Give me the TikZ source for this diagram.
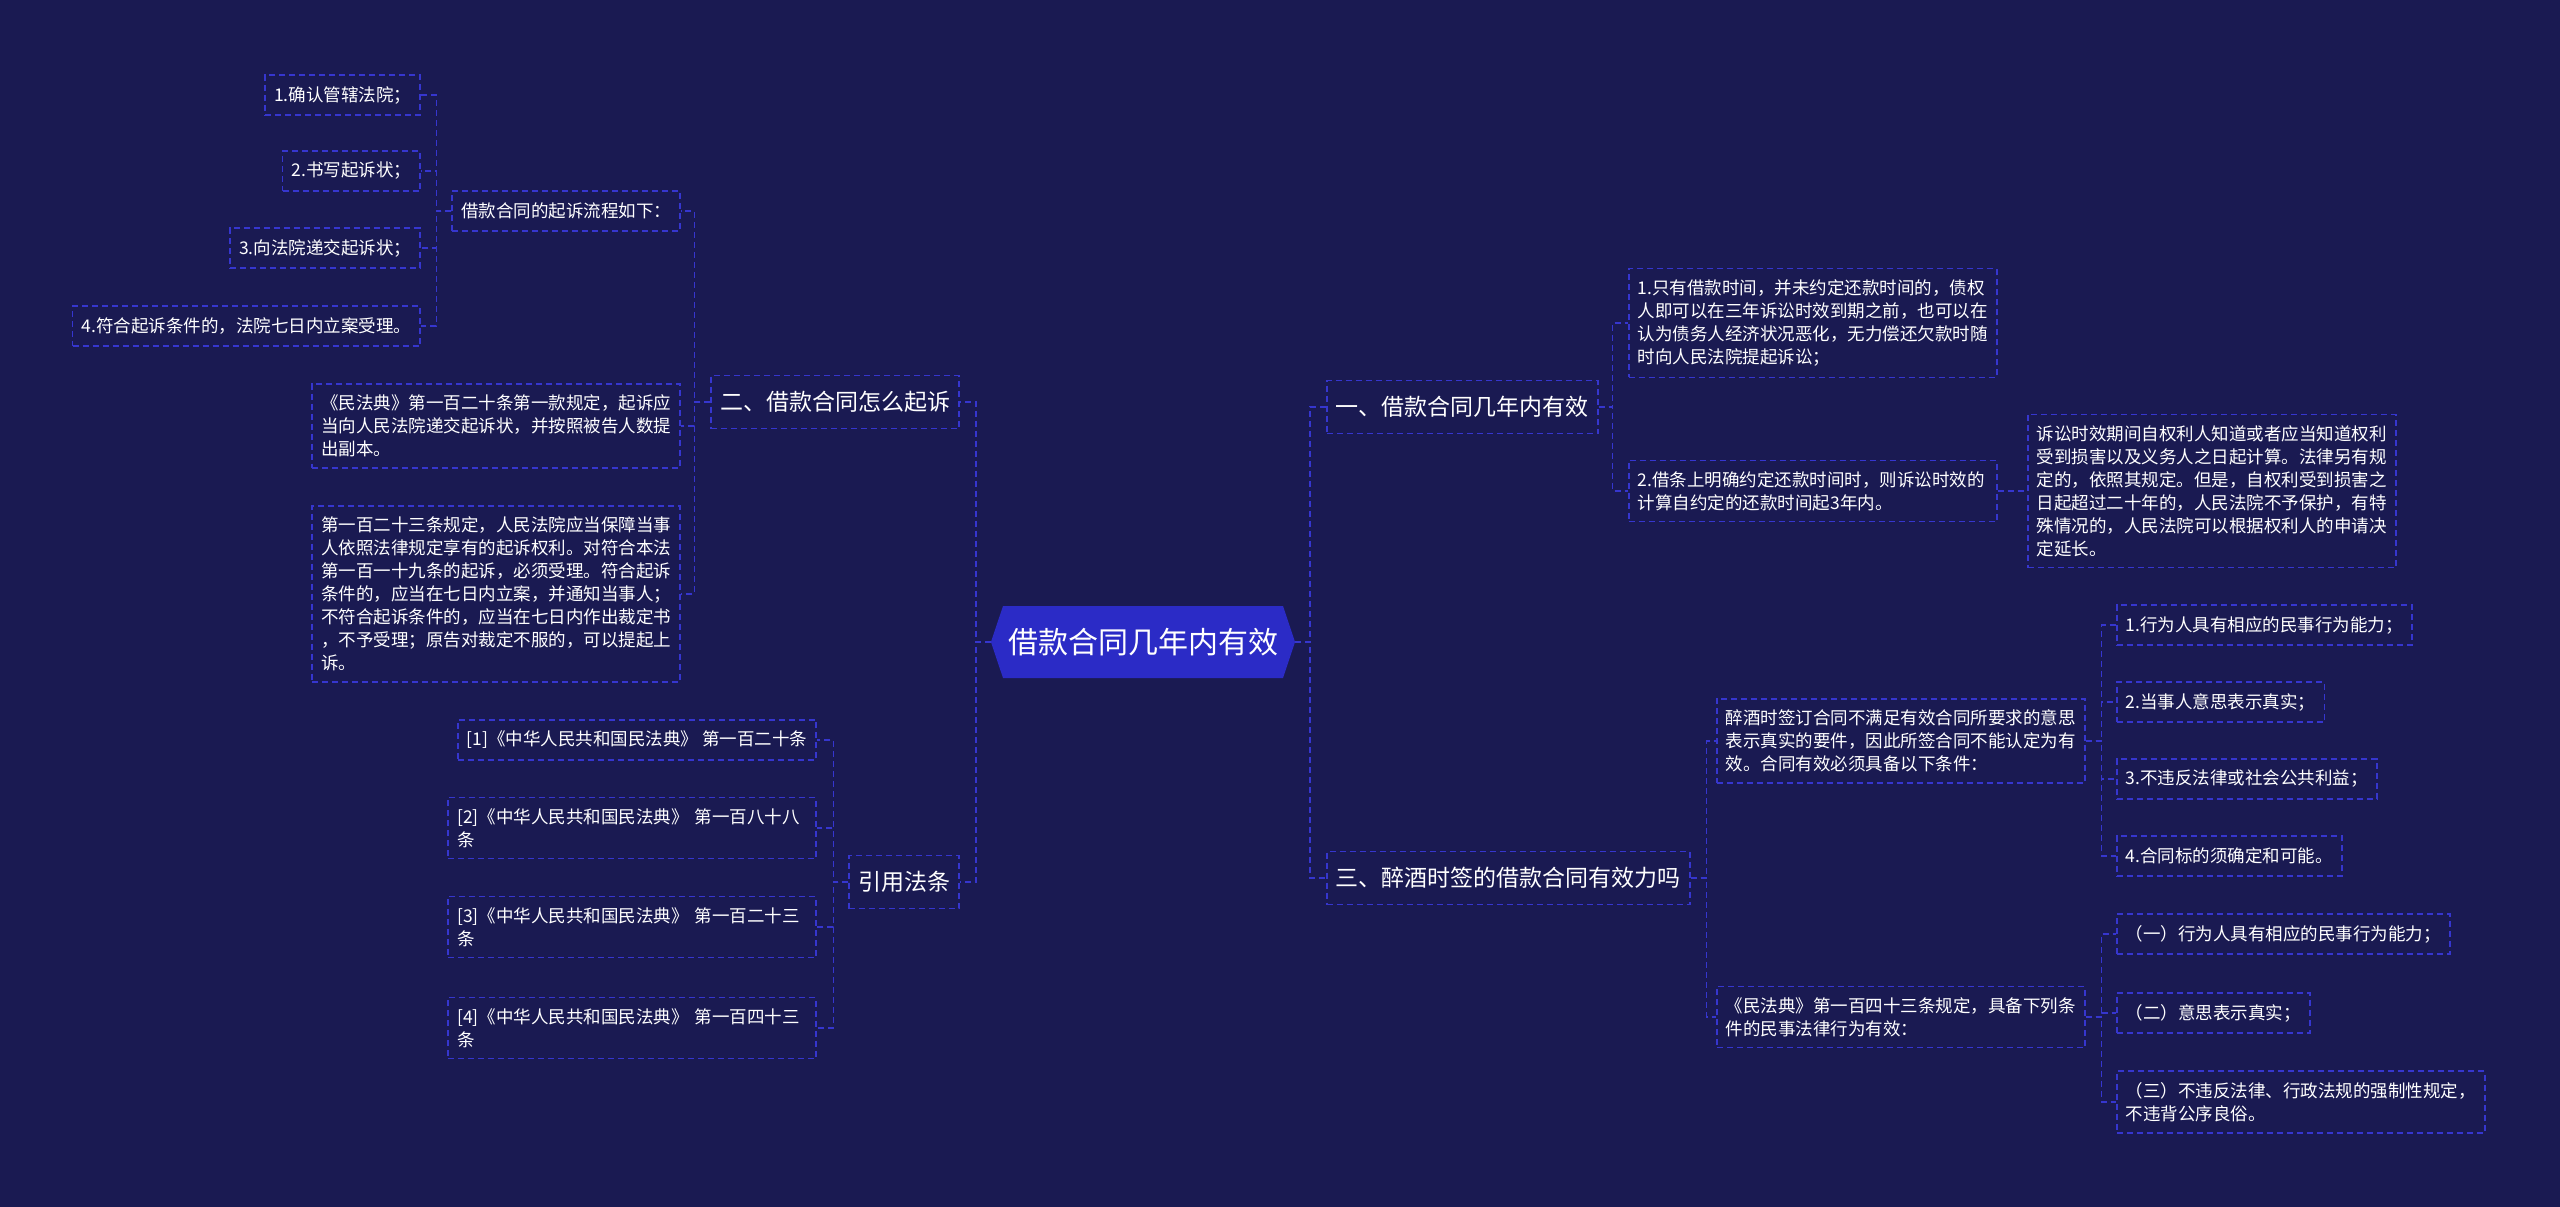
\documentclass[tikz,border=0pt]{standalone}
\usepackage{fontspec}
\setmainfont{Noto Sans CJK SC}
\usetikzlibrary{shapes.symbols}
\definecolor{nightnavy}{HTML}{1A1A52}
\definecolor{rootblue}{HTML}{2B2BC6}
\definecolor{dashblue}{HTML}{3636CE}

\tikzset{
  leaf/.style={draw=dashblue, line width=1.6pt, dash pattern=on 6pt off 4pt,
    text=white, font=\fontsize{17.5}{23}\selectfont,
    inner xsep=9pt, inner ysep=11pt, minimum height=40pt},
  para/.style={leaf, text width=350pt, align=left},
  branch/.style={leaf, font=\fontsize{23}{28}\selectfont, minimum height=53pt},
  root/.style={shape=signal, signal to=west and east, signal pointer angle=143,
    fill=rootblue, text=white, font=\fontsize{30}{36}\selectfont,
    inner xsep=5pt, minimum height=72pt},
  link/.style={dashblue, line width=1.6pt, dash pattern=on 6pt off 4pt}
}

\begin{document}
\begin{tikzpicture}[x=1pt, y=-1pt]
\useasboundingbox (0,0) rectangle (2560,1207);
\fill[nightnavy] (0,0) rectangle (2560,1207);

% centre
\node[root] (root) at (1143,642) {借款合同几年内有效};

% left: how to sue
\node[branch, anchor=east] (sue) at (960,402) {二、借款合同怎么起诉};
\node[leaf, anchor=east] (flow) at (681,211) {借款合同的起诉流程如下：};
\node[leaf, anchor=east] (step1) at (421,95)  {1.确认管辖法院；};
\node[leaf, anchor=east] (step2) at (421,171) {2.书写起诉状；};
\node[leaf, anchor=east] (step3) at (421,248) {3.向法院递交起诉状；};
\node[leaf, anchor=east] (step4) at (421,326) {4.符合起诉条件的，法院七日内立案受理。};
\node[para, anchor=east] (art120) at (681,426)
  {《民法典》第一百二十条第一款规定，起诉应\\当向人民法院递交起诉状，并按照被告人数提\\出副本。};
\node[para, anchor=east] (art123) at (681,594)
  {第一百二十三条规定，人民法院应当保障当事\\人依照法律规定享有的起诉权利。对符合本法\\第一百一十九条的起诉，必须受理。符合起诉\\条件的，应当在七日内立案，并通知当事人；\\不符合起诉条件的，应当在七日内作出裁定书\\，不予受理；原告对裁定不服的，可以提起上\\诉。};

% left: cited articles
\node[branch, anchor=east] (cite) at (960,882) {引用法条};
\node[leaf, anchor=east] (ref1) at (817,740) {[1]《中华人民共和国民法典》 第一百二十条};
\node[para, anchor=east] (ref2) at (817,828) {[2]《中华人民共和国民法典》 第一百八十八\\条};
\node[para, anchor=east] (ref3) at (817,927) {[3]《中华人民共和国民法典》 第一百二十三\\条};
\node[para, anchor=east] (ref4) at (817,1028) {[4]《中华人民共和国民法典》 第一百四十三\\条};

% right: term
\node[branch, anchor=west] (term) at (1326,407) {一、借款合同几年内有效};
\node[para, anchor=west] (term1) at (1628,323)
  {1.只有借款时间，并未约定还款时间的，债权\\人即可以在三年诉讼时效到期之前，也可以在\\认为债务人经济状况恶化，无力偿还欠款时随\\时向人民法院提起诉讼；};
\node[para, anchor=west] (term2) at (1628,491)
  {2.借条上明确约定还款时间时，则诉讼时效的\\计算自约定的还款时间起3年内。};
\node[para, anchor=west] (limit) at (2027,491)
  {诉讼时效期间自权利人知道或者应当知道权利\\受到损害以及义务人之日起计算。法律另有规\\定的，依照其规定。但是，自权利受到损害之\\日起超过二十年的，人民法院不予保护，有特\\殊情况的，人民法院可以根据权利人的申请决\\定延长。};

% right: drunk signing
\node[branch, anchor=west] (drunk) at (1326,878) {三、醉酒时签的借款合同有效力吗};
\node[para, anchor=west] (drunkpara) at (1716,741)
  {醉酒时签订合同不满足有效合同所要求的意思\\表示真实的要件，因此所签合同不能认定为有\\效。合同有效必须具备以下条件：};
\node[para, anchor=west] (civil143) at (1716,1017)
  {《民法典》第一百四十三条规定，具备下列条\\件的民事法律行为有效：};
\node[leaf, anchor=west] (cond1) at (2116,625) {1.行为人具有相应的民事行为能力；};
\node[leaf, anchor=west] (cond2) at (2116,702) {2.当事人意思表示真实；};
\node[leaf, anchor=west] (cond3) at (2116,779) {3.不违反法律或社会公共利益；};
\node[leaf, anchor=west] (cond4) at (2116,856) {4.合同标的须确定和可能。};
\node[leaf, anchor=west] (req1) at (2116,934)  {（一）行为人具有相应的民事行为能力；};
\node[leaf, anchor=west] (req2) at (2116,1013) {（二）意思表示真实；};
\node[para, anchor=west] (req3) at (2116,1102)
  {（三）不违反法律、行政法规的强制性规定，\\不违背公序良俗。};

% connectors, left
\foreach \n in {sue, cite}
  \draw[link] (root.west) -- ++(-15,0) |- (\n.east);
\foreach \n in {flow, art120, art123}
  \draw[link] (sue.west) -- ++(-16,0) |- (\n.east);
\foreach \n in {step1, step2, step3, step4}
  \draw[link] (flow.west) -- ++(-15,0) |- (\n.east);
\foreach \n in {ref1, ref2, ref3, ref4}
  \draw[link] (cite.west) -- ++(-15,0) |- (\n.east);

% connectors, right
\foreach \n in {term, drunk}
  \draw[link] (root.east) -- ++(15,0) |- (\n.west);
\foreach \n in {term1, term2}
  \draw[link] (term.east) -- ++(14,0) |- (\n.west);
\draw[link] (term2.east) -- (limit.west);
\foreach \n in {drunkpara, civil143}
  \draw[link] (drunk.east) -- ++(16,0) |- (\n.west);
\foreach \n in {cond1, cond2, cond3, cond4}
  \draw[link] (drunkpara.east) -- ++(16,0) |- (\n.west);
\foreach \n in {req1, req2, req3}
  \draw[link] (civil143.east) -- ++(16,0) |- (\n.west);
\end{tikzpicture}
\end{document}
